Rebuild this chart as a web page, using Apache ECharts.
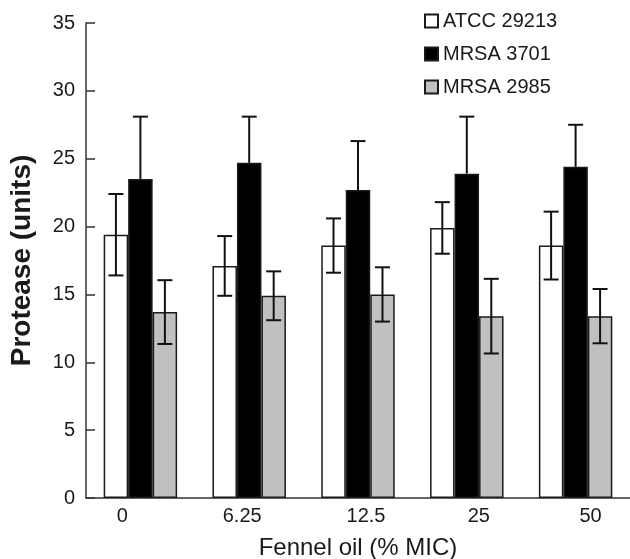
<!doctype html>
<html lang="en">
<head>
    <meta charset="UTF-8">
    <title>Protease - Fennel oil</title>
    <script src="https://cdn.jsdelivr.net/npm/echarts@6/dist/echarts.min.js"></script>
    <style>
        html, body { margin: 0; padding: 0; background: #fff; }
        #chart { width: 630px; height: 559px; }
    </style>
</head>
<body>
<div id="chart"></div>
<script>
    // ---- data ----
    var categories = ['0', '6.25', '12.5', '25', '50'];
    var seriesNames = ['ATCC 29213', 'MRSA 3701', 'MRSA 2985'];
    var atcc = [19.4, 17.1, 18.6, 19.9, 18.6];
    var atccErr = [3.0, 2.2, 2.0, 1.9, 2.5];
    var mrsa3701 = [23.5, 24.7, 22.7, 23.9, 24.4];
    var mrsa3701Err = [4.6, 3.4, 3.6, 4.2, 3.1];
    var mrsa2985 = [13.7, 14.9, 15.0, 13.4, 13.4];
    var mrsa2985Err = [2.35, 1.8, 2.0, 2.75, 2.0];

    var font = 'Liberation Sans, Arial, sans-serif';
    var barFrac = 0.225;   // bar width as share of category band
    var fills = ['#ffffff', '#000000', '#c0c0c0'];
    var means = [atcc, mrsa3701, mrsa2985];
    var errs = [atccErr, mrsa3701Err, mrsa2985Err];
    // the original tick labels sit a little off the band centres
    var labelShift = [-18, -7, 8, 12, 15];

    var chart = echarts.init(document.getElementById('chart'));

    // error bars: one custom series per group, shifted to its bar
    function errorSeries(k) {
        var data = means[k].map(function (v, i) {
            return [i, v, errs[k][i]];
        });
        return {
            type: 'custom',
            name: seriesNames[k] + ' err',
            z: 10,
            silent: true,
            data: data,
            renderItem: function (params, api) {
                var band = api.size([1, 0])[0];
                var dx = band * barFrac * (k - 1);
                var v = api.value(1), e = api.value(2);
                var top = api.coord([api.value(0), v + e]);
                // black bars only show the upper whisker
                var bot = api.coord([api.value(0), k === 1 ? v : v - e]);
                var x = top[0] + dx;
                var half = 7.5;
                var style = { stroke: '#111', lineWidth: 2 };
                var kids = [
                    { type: 'line', shape: { x1: x, y1: top[1], x2: x, y2: bot[1] }, style: style },
                    { type: 'line', shape: { x1: x - half, y1: top[1], x2: x + half, y2: top[1] }, style: style }
                ];
                if (k !== 1) {
                    kids.push({ type: 'line', shape: { x1: x - half, y1: bot[1], x2: x + half, y2: bot[1] }, style: style });
                }
                return { type: 'group', children: kids };
            }
        };
    }

    var series = [];
    for (var k = 0; k < 3; k++) {
        series.push({
            type: 'bar',
            name: seriesNames[k],
            data: means[k],
            barWidth: (barFrac * 100) + '%',
            barGap: '0%',
            itemStyle: {
                color: fills[k],
                borderColor: '#1a1a1a',
                borderWidth: 1.5
            }
        });
    }
    for (var k = 0; k < 3; k++) {
        series.push(errorSeries(k));
    }

    var rich = {};
    labelShift.forEach(function (s, i) {
        rich['l' + i] = {
            fontSize: 20,
            color: '#1a1a1a',
            fontFamily: font,
            padding: s >= 0 ? [0, 0, 0, 2 * s] : [0, -2 * s, 0, 0]
        };
    });

    var option = {
        backgroundColor: '#fff',
        animation: false,
        textStyle: { fontFamily: font },
        legend: {
            data: seriesNames,
            orient: 'vertical',
            left: 419,
            top: 6,
            itemWidth: 13,
            itemHeight: 13,
            itemGap: 13,
            icon: 'rect',
            textStyle: { fontSize: 20, color: '#1a1a1a', fontFamily: font }
        },
        grid: { left: 86, right: 0, top: 23, bottom: 61, outerBoundsMode: 'none' },
        xAxis: {
            type: 'category',
            data: categories,
            name: 'Fennel oil (% MIC)',
            nameLocation: 'middle',
            nameGap: 38,
            nameTextStyle: { fontSize: 24, color: '#1a1a1a', fontFamily: font },
            axisLine: { lineStyle: { color: '#333', width: 1.5 } },
            axisTick: { inside: true, length: 5, lineStyle: { color: '#333', width: 1.5 } },
            axisLabel: {
                margin: 8,
                formatter: function (val, i) {
                    return '{l' + i + '|' + val + '}';
                },
                rich: rich
            }
        },
        yAxis: {
            type: 'value',
            min: 0,
            max: 35,
            interval: 5,
            name: 'Protease (units)',
            nameLocation: 'middle',
            nameGap: 50,
            nameTextStyle: { fontSize: 28, fontWeight: 'bold', color: '#1a1a1a', fontFamily: font },
            axisLine: { show: true, lineStyle: { color: '#333', width: 1.5 } },
            axisTick: { show: true, inside: true, length: 9, lineStyle: { color: '#333', width: 1.5 } },
            axisLabel: { fontSize: 20, color: '#1a1a1a', margin: 11 },
            splitLine: { show: false }
        },
        series: series
    };
    chart.setOption(option);
</script>
</body>
</html>
